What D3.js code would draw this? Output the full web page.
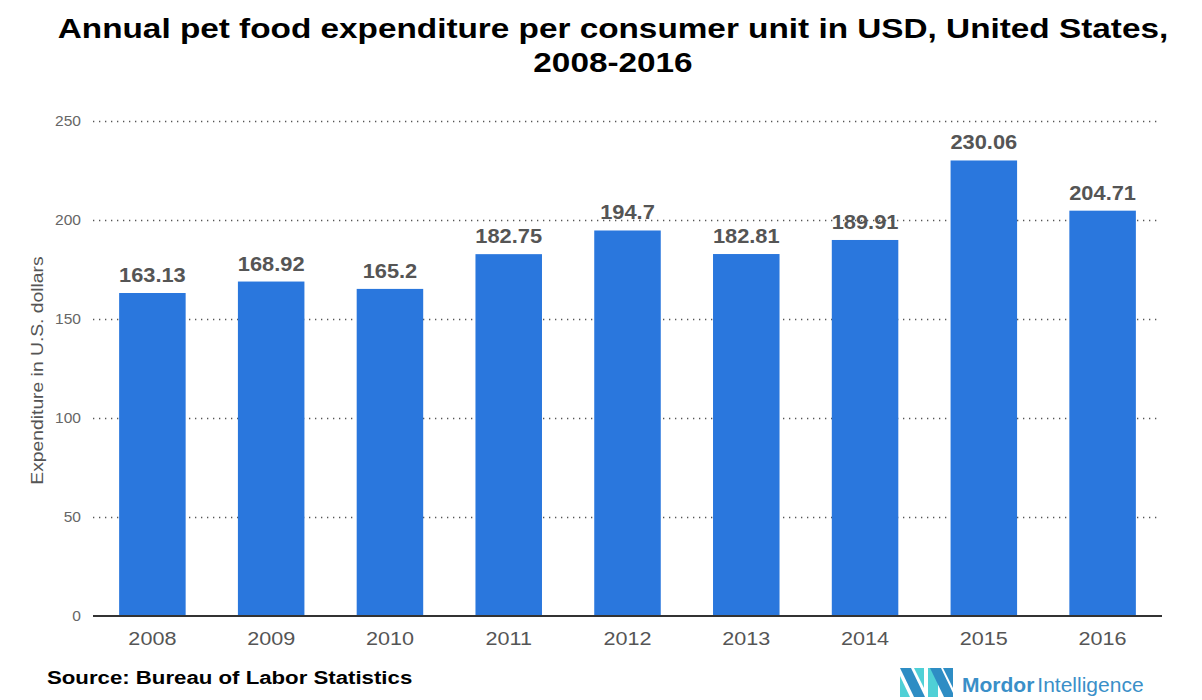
<html>
<script src="https://d3js.org/d3.v7.min.js"></script>
<style>
  body {margin: 0; background: #fff;}
  text {font-family: "Liberation Sans", Arial, sans-serif;}
</style>
<body>
<svg id="chart" width="1202" height="700"></svg>
<script>
  const years = ['2008', '2009', '2010', '2011', '2012', '2013', '2014', '2015', '2016'];
  const spend = [163.13, 168.92, 165.2, 182.75, 194.7, 182.81, 189.91, 230.06, 204.71];
  const spendLabels = ['163.13', '168.92', '165.2', '182.75', '194.7', '182.81', '189.91', '230.06', '204.71'];
  const yTicks = [0, 50, 100, 150, 200, 250];
  const titleLines = ['Annual pet food expenditure per consumer unit in USD, United States,', '2008-2016'];

  const svg = d3.select('#chart');
  const plotL = 93, plotR = 1162, plotT = 121, plotB = 616;

  // the source picture has wide glyphs, so texts get stretched sideways round their anchor
  function stretch(sel, k) {
    sel.each(function() {
      var x0 = +(this.getAttribute('x') || 0);
      d3.select(this).attr('transform', 'translate(' + (x0 * (1 - k)) + ',0) scale(' + k + ',1)');
    });
  }

  var x = d3.scaleBand()
    .domain(years)
    .range([plotL, plotR])
    .paddingInner(0.44)
    .paddingOuter(0.22);
  var y = d3.scaleLinear()
    .domain([0, 250])
    .range([plotB, plotT]);

  // title
  svg.append('g').selectAll('text')
    .data(titleLines)
    .enter()
    .append('text')
      .attr('x', 613)
      .attr('y', (d, i) => 38 + i * 34)
      .attr('text-anchor', 'middle')
      .attr('font-size', 28)
      .attr('font-weight', 'bold')
      .attr('fill', '#000')
      .text(d => d)
      .call(stretch, 1.19);

  // dotted grid + y labels
  var yAxis = svg.append('g')
    .attr('transform', 'translate(' + plotL + ',0)')
    .call(d3.axisLeft(y).tickValues(yTicks).tickSize(-(plotR - plotL - 2)).tickPadding(12));
  yAxis.select('.domain').remove();
  yAxis.selectAll('.tick line')
    .attr('stroke', '#555')
    .attr('stroke-dasharray', '1.3,4.7')
    .attr('stroke-width', 1.3);
  yAxis.selectAll('.tick').filter(d => d === 0).select('line').remove();
  yAxis.selectAll('.tick text')
    .attr('fill', '#666')
    .attr('font-size', 14)
    .attr('font-family', '"Liberation Sans", Arial, sans-serif')
    .call(stretch, 1.11);

  // bars
  svg.append('g').selectAll('rect')
    .data(spend)
    .enter()
    .append('rect')
      .attr('x', (d, i) => x(years[i]))
      .attr('y', d => y(d))
      .attr('width', x.bandwidth())
      .attr('height', d => y(0) - y(d))
      .attr('fill', '#2a77dd');

  // value labels
  svg.append('g').selectAll('text')
    .data(spend)
    .enter()
    .append('text')
      .attr('x', (d, i) => x(years[i]) + x.bandwidth() / 2)
      .attr('y', d => y(d) - 11)
      .attr('text-anchor', 'middle')
      .attr('font-size', 19.5)
      .attr('font-weight', 'bold')
      .attr('fill', '#555')
      .text((d, i) => spendLabels[i])
      .call(stretch, 1.12);

  // x axis
  var xAxis = svg.append('g')
    .attr('transform', 'translate(0,' + plotB + ')')
    .call(d3.axisBottom(x).tickSize(0).tickPadding(16));
  xAxis.select('.domain')
    .attr('stroke', '#333')
    .attr('stroke-width', 2)
    .attr('d', 'M' + plotL + ',0H' + plotR);
  xAxis.selectAll('.tick text')
    .attr('fill', '#555')
    .attr('font-size', 18)
    .attr('font-family', '"Liberation Sans", Arial, sans-serif')
    .call(stretch, 1.2);

  // y axis title
  svg.append('text')
    .attr('transform', 'translate(43,' + ((plotT + plotB) / 2 + 2) + ') rotate(-90) scale(1.135,1)')
    .attr('text-anchor', 'middle')
    .attr('font-size', 17)
    .attr('fill', '#555')
    .text('Expenditure in U.S. dollars');

  // source
  svg.append('text')
    .attr('x', 47)
    .attr('y', 684)
    .attr('font-size', 19)
    .attr('font-weight', 'bold')
    .attr('fill', '#000')
    .text('Source: Bureau of Labor Statistics')
    .call(stretch, 1.17);

  // logo
  var logo = svg.append('g').attr('transform', 'translate(900,668)');
  logo.append('polygon').attr('points', '0,0 11,0 25,29 14,29').attr('fill', '#2e8dc4');
  logo.append('polygon').attr('points', '0,8 0,29 10,29').attr('fill', '#4fd0d6');
  logo.append('polygon').attr('points', '14,0 24,0 24,20').attr('fill', '#4fd0d6');
  logo.append('polygon').attr('points', '28,0 38,0 38,29 28,29').attr('fill', '#4fd0d6');
  logo.append('polygon').attr('points', '30,0 41,0 53,25 53,29 44,29').attr('fill', '#2e8dc4');
  logo.append('polygon').attr('points', '43,0 53,0 53,20').attr('fill', '#2e8dc4');
  var lt = logo.append('text')
    .attr('x', 62)
    .attr('y', 24)
    .attr('font-size', 21)
    .attr('fill', '#3a8fc8');
  lt.append('tspan').attr('font-weight', 'bold').text('Mordor');
  lt.append('tspan').attr('dx', 3).text('Intelligence');
</script>
</body>
</html>
